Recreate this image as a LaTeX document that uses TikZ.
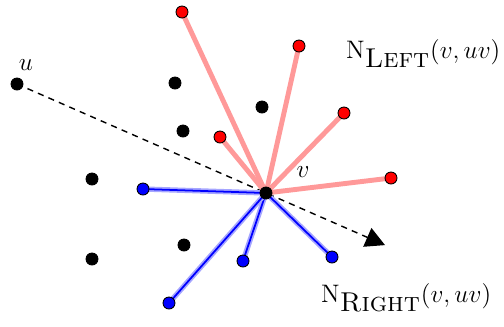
\documentclass[tikz,border=0pt]{standalone}
\usetikzlibrary{arrows.meta,calc,backgrounds}
\begin{document}
\begin{tikzpicture}[x=0.02cm, y=-0.02cm,
  dot/.style={circle, draw=black, fill=black, line width=0.5pt, inner sep=0pt,
              minimum size=2.4mm},
  leftdot/.style={dot, fill=red},
  rightdot/.style={dot, fill=blue},
  leftedge/.style={draw=red!40, line width=2.8pt},
  rightedge/.style={draw=blue, line width=1pt,
                    preaction={draw=blue!35, line width=3pt}},
  dir/.style={dashed, line width=0.8pt, dash pattern=on 3.5pt off 3pt,
              -{Triangle[length=11pt, width=11.5pt]}},
  lbl/.style={font=\fontsize{15.5}{18}\selectfont}
]
\useasboundingbox (0,0) rectangle (504,326);
% the two ends of the directed edge
\node[dot] (u) at (17,84) {};
\node[dot] (v) at (266,193) {};
\node[lbl] (ulab) at (26,65) {$u$};
\node[lbl] (vlab) at (303,172) {$v$};
\coordinate (tip) at ($(u)!1.478!(v)$);

% other points
\node[dot] (p1) at (175,83) {};
\node[dot] (p2) at (262,107) {};
\node[dot] (p3) at (183,131) {};
\node[dot] (p4) at (92,179) {};
\node[dot] (p5) at (184,245) {};
\node[dot] (p6) at (92,259) {};

% left neighbours
\node[leftdot] (l1) at (182,12) {};
\node[leftdot] (l2) at (299,46) {};
\node[leftdot] (l3) at (344,113) {};
\node[leftdot] (l4) at (220,137) {};
\node[leftdot] (l5) at (391,178) {};

% right neighbours
\node[rightdot] (r1) at (143,189) {};
\node[rightdot] (r2) at (243,261) {};
\node[rightdot] (r3) at (332,257) {};
\node[rightdot] (r4) at (169,303) {};

\begin{scope}[on background layer]
\draw[dir] (u.center) -- (tip);
\foreach \n in {l1,l2,l3,l4,l5}
  \draw[leftedge] (v.center) -- (\n.center);
\foreach \n in {r1,r2,r3,r4}
  \draw[rightedge] (v.center) -- (\n.center);
\end{scope}

\node[lbl, anchor=base west] (nleft) at (340,58) {$\mathrm{N}_{\mbox{\textsc{Left}}}(v,uv)$};
\node[lbl, anchor=base west] (nright) at (315,302) {$\mathrm{N}_{\mbox{\textsc{Right}}}(v,uv)$};
\end{tikzpicture}
\end{document}
